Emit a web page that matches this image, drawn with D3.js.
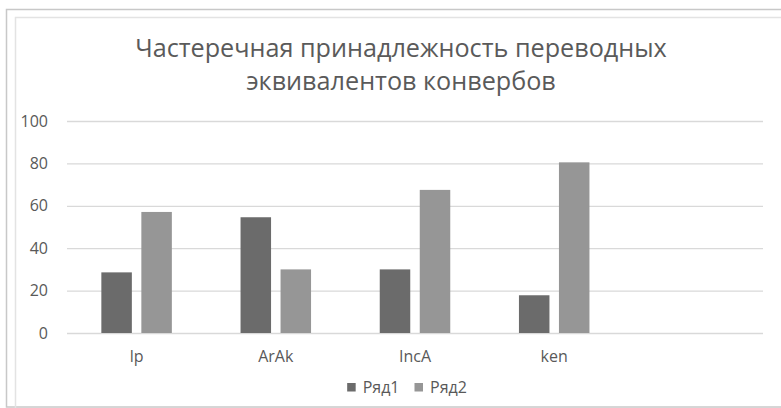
<!DOCTYPE html>
<html>
<head>
<meta charset="utf-8">
<script src="https://cdn.jsdelivr.net/npm/d3@7"></script>
<style>
  html, body { margin: 0; padding: 0; background: #ffffff; }
  svg { display: block; }
  text { font-family: "Open Sans", "DejaVu Sans", sans-serif; fill: #595959; }
</style>
</head>
<body>
<svg id="chart" width="781" height="408"></svg>
<script>
// Categories (the last row of the source table is empty)
const categories = ["lp", "ArAk", "IncA", "ken", ""];
const seriesNames = ["Ряд1", "Ряд2"];
const series1 = [28.6, 54.6, 30.0, 17.8, null];
const series2 = [57.1, 30.0, 67.5, 80.5, null];
const yTicks = [0, 20, 40, 60, 80, 100];
const titleLines = ["Частеречная принадлежность переводных", "эквивалентов конвербов"];
const colors = ["#6b6b6b", "#969696"];

const svg = d3.select("#chart");

// chart frames
svg.append("rect")
  .attr("x", 6.5).attr("y", 9.5).attr("width", 800).attr("height", 397.5)
  .attr("fill", "none").attr("stroke", "#c8c8c8").attr("stroke-width", 1.5);
svg.append("rect")
  .attr("x", 15.5).attr("y", 17.5).attr("width", 800).attr("height", 400)
  .attr("fill", "none").attr("stroke", "#e3e3e3").attr("stroke-width", 1.5);

const plot = { left: 67, right: 763, top: 121, bottom: 333 };

// title
const title = svg.append("text")
  .attr("text-anchor", "middle")
  .style("font-size", "25.2px")
  .style("fill", "#5a5a5a");
title.selectAll("tspan").data(titleLines).join("tspan")
  .attr("x", 401)
  .attr("y", (d, i) => 57 + i * 33)
  .text(d => d);

const y = d3.scaleLinear().domain([0, 100]).range([plot.bottom, plot.top]);

const x0 = d3.scaleBand()
  .domain(categories)
  .range([plot.left, plot.right])
  .paddingInner(0.4935)
  .paddingOuter(0.4935 / 2);

const x1 = d3.scaleBand()
  .domain(seriesNames)
  .range([0, x0.bandwidth()])
  .paddingInner(0.2375)
  .paddingOuter(0);

// y axis with gridlines
const yAxis = svg.append("g")
  .attr("transform", `translate(${plot.left},0)`)
  .call(d3.axisLeft(y).tickValues(yTicks)
    .tickSizeInner(-(plot.right - plot.left))
    .tickSizeOuter(0)
    .tickPadding(19));
yAxis.select(".domain").remove();
yAxis.selectAll(".tick line").attr("stroke", "#d9d9d9").attr("stroke-width", 1.3);
yAxis.selectAll(".tick text")
  .style("font-size", "16px").style("font-family", "'Open Sans', sans-serif").attr("fill", "#595959");

// bars
const rows = categories.map((c, i) => ({ cat: c, vals: [series1[i], series2[i]] }));
const groups = svg.append("g").selectAll("g").data(rows).join("g")
  .attr("transform", d => `translate(${x0(d.cat)},0)`);
groups.selectAll("rect")
  .data(d => d.vals.map((v, j) => ({ name: seriesNames[j], v, j })).filter(e => e.v != null))
  .join("rect")
  .attr("x", e => x1(e.name))
  .attr("width", x1.bandwidth())
  .attr("y", e => y(e.v))
  .attr("height", e => y(0) - y(e.v))
  .attr("fill", e => colors[e.j]);

// x axis labels
const xAxis = svg.append("g")
  .attr("transform", `translate(0,${plot.bottom})`)
  .call(d3.axisBottom(x0).tickSize(0).tickPadding(18));
xAxis.select(".domain").remove();
xAxis.selectAll(".tick text")
  .style("font-size", "16px").style("font-family", "'Open Sans', sans-serif").attr("fill", "#595959");

// legend
const legend = svg.append("g");
let lx = 0;
seriesNames.forEach((name, i) => {
  const item = legend.append("g").attr("transform", `translate(${lx},0)`);
  item.append("rect").attr("x", 0).attr("y", 383).attr("width", 8.5).attr("height", 8.5)
    .attr("fill", colors[i]);
  const t = item.append("text").attr("x", 15.5).attr("y", 392.5)
    .style("font-size", "16px").text(name);
  lx += 15.5 + t.node().getComputedTextLength() + 15;
});
const legendWidth = lx - 15;
legend.attr("transform", `translate(${407 - legendWidth / 2},0)`);
</script>
</body>
</html>
